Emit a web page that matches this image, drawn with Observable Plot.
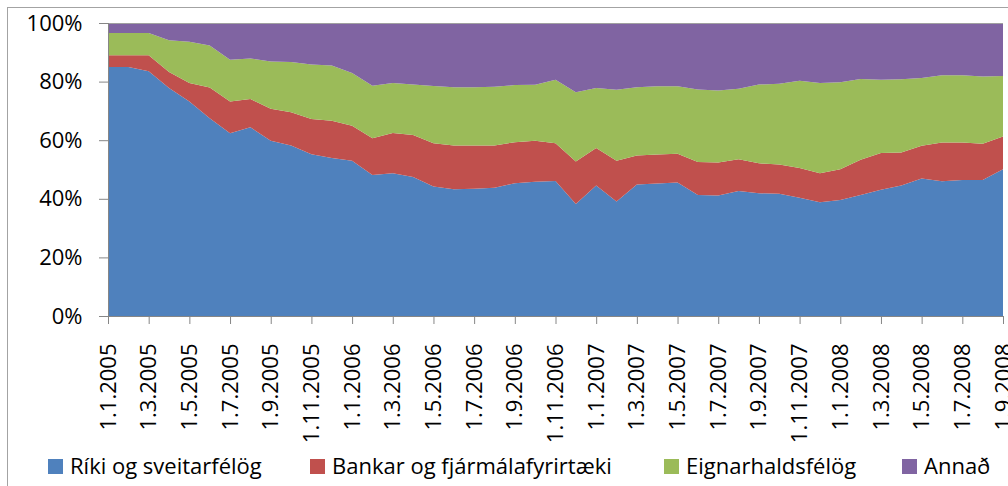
<!DOCTYPE html>
<html>
<head>
<meta charset="utf-8">
<script src="https://cdn.jsdelivr.net/npm/d3@7"></script>
<script src="https://cdn.jsdelivr.net/npm/@observablehq/plot@0.6"></script>
<style>
  html, body { margin: 0; padding: 0; background: #fff; overflow: hidden; }
  #wrap { position: relative; width: 1008px; height: 486px; overflow: hidden; font-family: "Open Sans", sans-serif; }
  #frame { position: absolute; left: 7px; top: 7px; width: 1100px; height: 600px; border: 1.5px solid #a3a3a3; pointer-events: none; }
  #chart { position: absolute; left: 0; top: 0; }
  .sw { position: absolute; top: 459px; width: 15px; height: 15px; }
  .lt { position: absolute; top: 454px; font-size: 22px; line-height: 22px; color: #000; white-space: nowrap; }
</style>
</head>
<body>
<div id="wrap">
  <div id="frame"></div>
  <div id="chart"></div>
  <div id="legend"></div>
</div>
<script>
const months = [
  "1.1.2005","1.2.2005","1.3.2005","1.4.2005","1.5.2005","1.6.2005","1.7.2005","1.8.2005","1.9.2005","1.10.2005","1.11.2005","1.12.2005",
  "1.1.2006","1.2.2006","1.3.2006","1.4.2006","1.5.2006","1.6.2006","1.7.2006","1.8.2006","1.9.2006","1.10.2006","1.11.2006","1.12.2006",
  "1.1.2007","1.2.2007","1.3.2007","1.4.2007","1.5.2007","1.6.2007","1.7.2007","1.8.2007","1.9.2007","1.10.2007","1.11.2007","1.12.2007",
  "1.1.2008","1.2.2008","1.3.2008","1.4.2008","1.5.2008","1.6.2008","1.7.2008","1.8.2008","1.9.2008"
];
const seriesNames = ["Ríki og sveitarfélög", "Bankar og fjármálafyrirtæki", "Eignarhaldsfélög", "Annað"];
const seriesColors = ["#4F81BD", "#C0504D", "#9BBB59", "#8064A2"];

const riki = [85.0,85.0,83.5,77.8,73.2,67.5,62.4,64.4,59.8,58.2,55.2,53.9,53.0,48.1,48.7,47.4,44.2,43.3,43.4,43.8,45.3,45.8,46.1,38.2,44.5,39.1,44.9,45.2,45.6,41.3,41.1,42.7,41.9,41.7,40.4,38.8,39.6,41.3,43.1,44.5,46.9,46.0,46.4,46.4,50.1];
const bankar = [4.0,4.0,5.5,5.5,6.3,10.5,10.8,9.7,10.9,11.3,12.0,12.7,11.9,12.6,13.8,14.4,14.8,14.9,14.8,14.4,14.0,14.0,12.9,14.5,12.8,13.9,9.9,9.9,9.8,11.3,11.3,10.8,10.2,10.0,10.1,9.9,10.5,12.0,12.5,11.3,11.2,13.2,12.8,12.4,11.2];
const eignarhalds = [7.6,7.6,7.6,10.8,14.1,14.3,14.3,13.8,16.2,17.2,18.6,18.9,18.0,17.9,17.0,17.2,19.5,19.9,19.9,20.0,19.5,19.1,21.6,23.7,20.5,24.2,23.3,23.3,23.0,24.7,24.6,24.1,26.9,27.6,29.8,30.8,29.7,27.6,25.0,25.0,23.1,23.0,23.0,22.9,20.6];
const annad = [3.4,3.4,3.4,5.9,6.4,7.7,12.5,12.1,13.1,13.3,14.2,14.5,17.1,21.4,20.5,21.0,21.5,21.9,21.9,21.8,21.2,21.1,19.4,23.6,22.2,22.8,21.9,21.6,21.6,22.7,23.0,22.4,21.0,20.7,19.7,20.5,20.2,19.1,19.4,19.2,18.8,17.8,17.8,18.3,18.1];
const yTicks = [0, 20, 40, 60, 80, 100];

const seriesValues = [riki, bankar, eignarhalds, annad];
const data = [];
seriesNames.forEach((name, s) => {
  seriesValues[s].forEach((v, i) => data.push({i, month: months[i], series: name, value: v}));
});

const axisGray = "#868686";
const chart = Plot.plot({
  width: 1008,
  height: 448,
  marginLeft: 108,
  marginRight: 5,
  marginTop: 23,
  marginBottom: 132,
  style: {fontFamily: "'Open Sans', sans-serif", fontSize: "22px", background: "transparent"},
  x: {domain: [0, months.length - 1], label: null},
  y: {domain: [0, 100], label: null},
  color: {domain: seriesNames, range: seriesColors},
  marks: [
    Plot.areaY(data, Plot.stackY({x: "i", y: "value", z: "series", fill: "series", order: seriesNames})),
    Plot.ruleY([100], {stroke: "#a0a0a0", strokeWidth: 1}),
    Plot.ruleY([0], {stroke: axisGray, strokeWidth: 1}),
    Plot.ruleX([0], {stroke: axisGray, strokeWidth: 1}),
    Plot.axisY({ticks: yTicks, tickFormat: d => d + "%", tickSize: 9, tickPadding: 17, stroke: axisGray, color: "#000", fill: "#000", label: null}),
    Plot.axisX({ticks: d3.range(0, months.length, 2), tickFormat: i => months[i], tickRotate: -90, tickSize: 8, tickPadding: 19, stroke: axisGray, color: "#000", fill: "#000", label: null})
  ]
});
document.getElementById("chart").appendChild(chart);

const legendX = [48, 310, 664, 902];
const legend = document.getElementById("legend");
seriesNames.forEach((name, s) => {
  const sw = document.createElement("div");
  sw.className = "sw";
  sw.style.left = legendX[s] + "px";
  sw.style.background = seriesColors[s];
  legend.appendChild(sw);
  const t = document.createElement("div");
  t.className = "lt";
  t.style.left = (legendX[s] + 22) + "px";
  t.textContent = name;
  legend.appendChild(t);
});
</script>
</body>
</html>
